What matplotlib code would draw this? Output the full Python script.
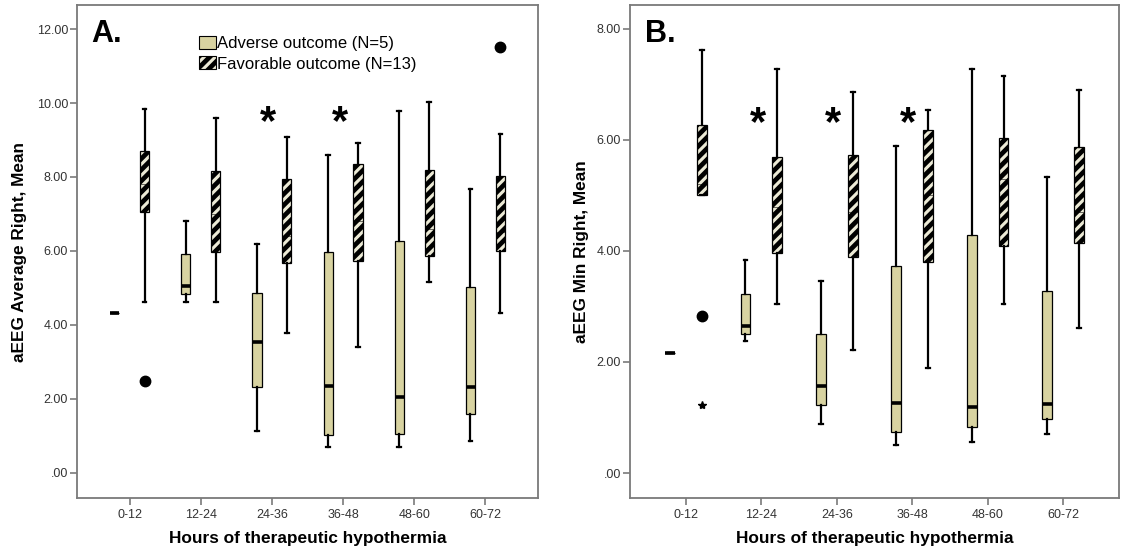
import numpy as np
import matplotlib
matplotlib.use("Agg")
import matplotlib.pyplot as plt
from matplotlib.patches import Patch
from matplotlib.ticker import FuncFormatter, FixedLocator

plt.rcParams['font.family'] = ['Liberation Sans', 'DejaVu Sans']
plt.rcParams['hatch.linewidth'] = 3.4

# ---------------- data ----------------
categories = ['0-12', '12-24', '24-36', '36-48', '48-60', '60-72']
legend_labels = ['Adverse outcome (N=5)', 'Favorable outcome (N=13)']

# Panel A: aEEG Average Right, Mean
a_adv_lo  = [4.33, 4.63, 1.12, 0.69, 0.71, 0.85]
a_adv_q1  = [4.33, 4.84, 2.33, 1.03, 1.05, 1.59]
a_adv_med = [4.33, 5.04, 3.54, 2.35, 2.06, 2.33]
a_adv_q3  = [4.33, 5.92, 4.87, 5.96, 6.28, 5.02]
a_adv_hi  = [4.33, 6.82, 6.20, 8.59, 9.79, 7.68]

a_fav_lo  = [4.63, 4.63, 3.79, 3.41, 5.17, 4.32]
a_fav_q1  = [7.05, 5.98, 5.68, 5.74, 5.87, 6.01]
a_fav_med = [7.80, 7.00, 6.40, 6.80, 6.60, 6.50]
a_fav_q3  = [8.71, 8.16, 7.94, 8.35, 8.20, 8.03]
a_fav_hi  = [9.85, 9.60, 9.07, 8.91, 10.04, 9.16]
a_fav_outliers = [[2.47], [], [], [], [], [11.52]]
a_fav_extremes = [[], [], [], [], [], []]
a_sig_cats = ['24-36', '36-48']
a_sig_level = 9.68

# Panel B: aEEG Min Right, Mean
b_adv_lo  = [2.16, 2.37, 0.88, 0.50, 0.55, 0.70]
b_adv_q1  = [2.16, 2.50, 1.23, 0.74, 0.82, 0.97]
b_adv_med = [2.16, 2.64, 1.57, 1.27, 1.19, 1.24]
b_adv_q3  = [2.16, 3.23, 2.50, 3.72, 4.29, 3.28]
b_adv_hi  = [2.16, 3.84, 3.45, 5.89, 7.27, 5.34]

b_fav_lo  = [5.01, 3.04, 2.22, 1.89, 3.05, 2.62]
b_fav_q1  = [5.01, 3.97, 3.89, 3.80, 4.09, 4.15]
b_fav_med = [5.20, 4.80, 4.70, 5.00, 5.30, 4.70]
b_fav_q3  = [6.26, 5.69, 5.72, 6.18, 6.03, 5.88]
b_fav_hi  = [7.62, 7.27, 6.87, 6.53, 7.15, 6.90]
b_fav_outliers = [[2.83], [], [], [], [], []]
b_fav_extremes = [[1.23], [], [], [], [], []]
b_sig_cats = ['12-24', '24-36', '36-48']
b_sig_level = 6.43

a_yticks = [0, 2, 4, 6, 8, 10, 12]
b_yticks = [0, 2, 4, 6, 8]

# ---------------- style ----------------
BEIGE = '#d8d3a1'
LIGHT = '#ecead6'
SPINE = '#7a7a7a'
OFF = 0.21
W = 0.13


def stats(lo, q1, med, q3, hi, outl=None):
    out = []
    for i in range(len(lo)):
        out.append(dict(whislo=lo[i], q1=q1[i], med=med[i], q3=q3[i],
                        whishi=hi[i], fliers=(outl[i] if outl else [])))
    return out


def fmt(v, pos):
    s = f"{v:.2f}"
    if s.startswith('0.'):
        s = s[1:]
    return s


def panel(ax, adv, fav, outl, extr, sig_cats, sig_level, ylim, yticks,
          ylabel, letter, show_legend, ylabel_x):
    x = np.arange(len(categories))
    common = dict(widths=W, patch_artist=True, manage_ticks=False,
                  whiskerprops=dict(color='black', lw=1.6),
                  capprops=dict(color='black', lw=1.6),
                  capwidths=0.05)
    ax.bxp(stats(*adv), positions=x - OFF,
           boxprops=dict(facecolor=BEIGE, edgecolor='black', lw=0.9),
           medianprops=dict(color='black', lw=2.6),
           showfliers=False, **common)
    ax.bxp(stats(*fav, outl), positions=x + OFF,
           boxprops=dict(facecolor=LIGHT, edgecolor='black', lw=0.9, hatch='///'),
           medianprops=dict(color='black', lw=0.4),
           flierprops=dict(marker='o', markerfacecolor='black',
                           markeredgecolor='black', markersize=7.5),
           showfliers=True, **common)
    for i, vals in enumerate(extr):
        if vals:
            ax.plot([x[i] + OFF] * len(vals), vals, linestyle='none',
                    marker='*', color='black', markersize=6)
    for c in sig_cats:
        i = categories.index(c)
        ax.annotate('*', xy=(i - 0.05, sig_level), xytext=(0, -14),
                    textcoords='offset points', ha='center', va='baseline',
                    fontsize=30, fontweight='bold')

    ax.set_xlim(-0.74, 5.74)
    ax.set_ylim(*ylim)
    ax.set_xticks(x)
    ax.set_xticklabels(categories)
    ax.yaxis.set_major_locator(FixedLocator(yticks))
    ax.yaxis.set_major_formatter(FuncFormatter(fmt))
    for sp in ax.spines.values():
        sp.set_color(SPINE)
        sp.set_linewidth(1.3)
    ax.tick_params(axis='both', colors=SPINE, labelcolor='#333333',
                   labelsize=9, length=5, width=1.2)
    ax.tick_params(axis='x', pad=3)
    ax.tick_params(axis='y', pad=1.5)
    ax.set_xlabel('Hours of therapeutic hypothermia', fontsize=12.4,
                  fontweight='bold', labelpad=7)
    ax.set_ylabel(ylabel, fontsize=12.4, fontweight='bold')
    ax.yaxis.set_label_coords(ylabel_x, 0.5)
    ax.text(0.031, 0.972, letter, transform=ax.transAxes, fontsize=22,
            fontweight='bold', ha='left', va='top')
    if show_legend:
        handles = [Patch(facecolor=BEIGE, edgecolor='black', lw=0.8),
                   Patch(facecolor=LIGHT, edgecolor='black', lw=0.8, hatch='///')]
        ax.legend(handles, legend_labels, loc='upper left',
                  bbox_to_anchor=(0.265, 0.937), frameon=False, fontsize=12,
                  handlelength=1.0, handleheight=0.85, handletextpad=0.1,
                  labelspacing=0.28, borderpad=0, borderaxespad=0)


fig = plt.figure(figsize=(11.22, 5.54), dpi=100)
axA = fig.add_axes([77 / 1122, 56 / 554, 461 / 1122, 493 / 554])
axB = fig.add_axes([630 / 1122, 56 / 554, 489 / 1122, 493 / 554])

panel(axA,
      (a_adv_lo, a_adv_q1, a_adv_med, a_adv_q3, a_adv_hi),
      (a_fav_lo, a_fav_q1, a_fav_med, a_fav_q3, a_fav_hi),
      a_fav_outliers, a_fav_extremes, a_sig_cats, a_sig_level,
      (-0.68, 12.65), a_yticks, 'aEEG Average Right, Mean', 'A.', True, -0.108)
panel(axB,
      (b_adv_lo, b_adv_q1, b_adv_med, b_adv_q3, b_adv_hi),
      (b_fav_lo, b_fav_q1, b_fav_med, b_fav_q3, b_fav_hi),
      b_fav_outliers, b_fav_extremes, b_sig_cats, b_sig_level,
      (-0.45, 8.43), b_yticks, 'aEEG Min Right, Mean', 'B.', False, -0.084)

fig.savefig('out.png', dpi=100)
